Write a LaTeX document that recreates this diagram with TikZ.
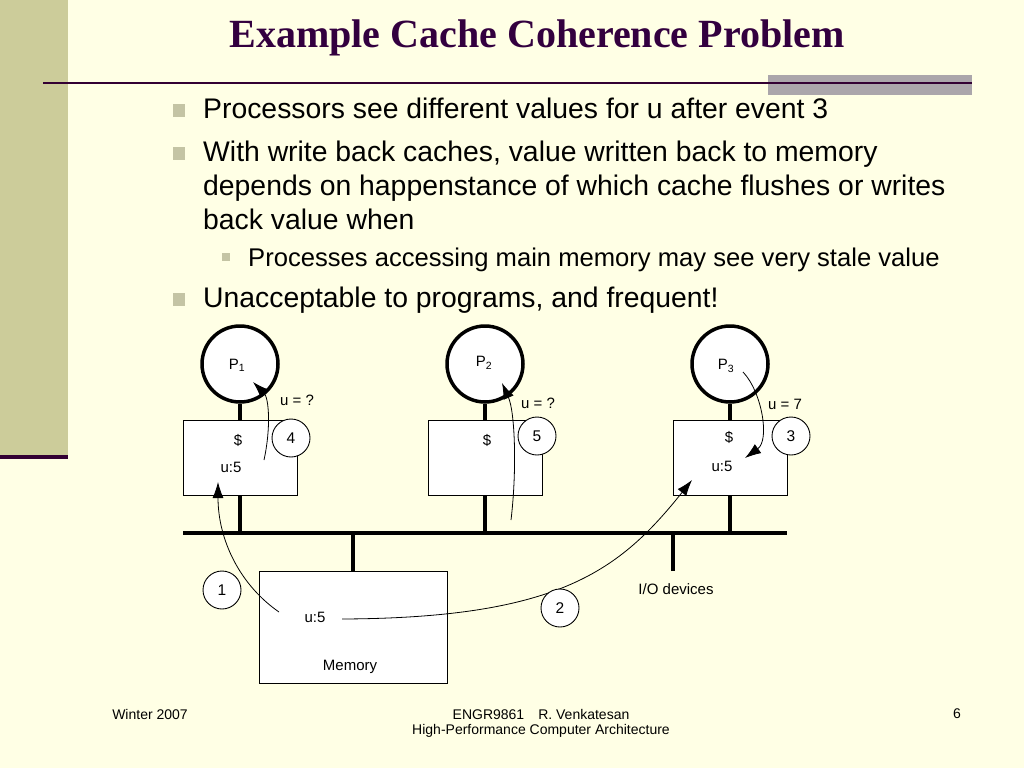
\documentclass[tikz,border=0pt]{standalone}
\usepackage{fontspec}
\setmainfont{Liberation Sans}
\newfontfamily\titlefont{Liberation Serif}
\usetikzlibrary{arrows.meta}
\definecolor{bg}{HTML}{FFFFE5}
\definecolor{strip}{HTML}{CCCC9A}
\definecolor{darkline}{HTML}{330033}
\definecolor{graybar}{HTML}{ABA6AB}
\definecolor{titlecol}{HTML}{33003F}
\definecolor{bulletcol}{HTML}{C4C4A4}
\tikzset{
  bodytext/.style={anchor=base west, inner sep=0pt, font=\fontsize{28.35}{32}\selectfont},
  subtext/.style={anchor=base west, inner sep=0pt, font=\fontsize{25.6}{30}\selectfont},
  foottext/.style={inner sep=0pt, font=\fontsize{14}{17}\selectfont},
  lbl/.style={inner sep=0pt, font=\fontsize{15}{18}\selectfont},
  proc/.style={circle, draw, line width=3.5pt, fill=white, minimum size=76pt, inner sep=0pt},
  cachebox/.style={rectangle, draw, line width=0.9pt, fill=white, minimum width=114pt, minimum height=75pt, inner sep=0pt},
  numcirc/.style={circle, draw, line width=0.9pt, fill=white, minimum size=38pt, inner sep=0pt, font=\fontsize{15.5}{18}\selectfont},
  heavy/.style={line width=3.5pt},
  flow/.style={line width=0.8pt, -{Latex[length=16pt,width=11pt]}},
  bulletsq/.style={fill=bulletcol},
}
\begin{document}
\begin{tikzpicture}[x=1pt,y=-1pt]
\useasboundingbox (0,0) rectangle (1024,768);
% background and decoration
\fill[bg] (0,0) rectangle (1024,768);
\fill[strip] (0,0) rectangle (68,456);
\fill[darkline] (0,455) rectangle (68,459);
\fill[graybar] (768,75) rectangle (972,95);
\draw[darkline, line width=2pt] (43,83) -- (972,83);
% title
\node[inner sep=0pt, text=titlecol, font=\titlefont\bfseries\fontsize{40}{44}\selectfont] (title) at (537,38) {Example Cache Coherence Problem};
% bullets
\fill[bulletsq] (173,104) rectangle (185,117);
\node[bodytext] (b1) at (203,118) {Processors see different values for u after event 3};
\fill[bulletsq] (173,147) rectangle (185,160);
\node[bodytext] (b2a) at (203,161) {With write back caches, value written back to memory};
\node[bodytext] (b2b) at (203,195) {depends on happenstance of which cache flushes or writes};
\node[bodytext] (b2c) at (203,229) {back value when};
\fill[bulletsq] (222,253) rectangle (230,261);
\node[subtext] (b3) at (248,266) {Processes accessing main memory may see very stale value};
\fill[bulletsq] (173,293) rectangle (185,306);
\node[bodytext] (b4) at (203,307) {Unacceptable to programs, and frequent!};
% bus
\coordinate (busL) at (183,533);
\coordinate (busR) at (787,533);
\draw[heavy] (busL) -- (busR);
% processors and caches
\node[proc] (p1) at (240,364) {};
\node[proc] (p2) at (485,364) {};
\node[proc] (p3) at (730,364) {};
\node[lbl] (p1l) at (237,365) {P\textsubscript{1}};
\node[lbl] (p2l) at (484,363) {P\textsubscript{2}};
\node[lbl] (p3l) at (726,366) {P\textsubscript{3}};
\node[cachebox] (c1) at (240,457.5) {};
\node[cachebox] (c2) at (485,457.5) {};
\node[cachebox] (c3) at (730,457.5) {};
\draw[heavy] (p1.south) -- (c1.north);
\draw[heavy] (p2.south) -- (c2.north);
\draw[heavy] (p3.south) -- (c3.north);
\draw[heavy] (c1.south) -- (c1.south |- busL);
\draw[heavy] (c2.south) -- (c2.south |- busL);
\draw[heavy] (c3.south) -- (c3.south |- busL);
\node[lbl] (d1) at (238,440) {\$};
\node[lbl] (d2) at (487,440) {\$};
\node[lbl] (d3) at (729,437) {\$};
\node[lbl] (u1) at (231,467) {u:5};
\node[lbl] (u3) at (722,466) {u:5};
\node[lbl] (q1) at (297,400) {u = ?};
\node[lbl] (q2) at (538,403) {u = ?};
\node[lbl] (q3) at (785,404) {u = 7};
% memory and I/O
\node[cachebox, minimum width=188pt, minimum height=112pt] (mem) at (353,627) {};
\draw[heavy] (mem.north) -- (mem.north |- busL);
\node[lbl] (mu) at (315,617) {u:5};
\node[lbl] (ml) at (350,667) {Memory};
\coordinate (iotop) at (673,571);
\draw[heavy] (iotop) -- (iotop |- busL);
\node[lbl] (io) at (676,589) {I/O devices};
% arrows
\coordinate (a1s) at (279,612);
\coordinate (a1e) at (218,482);
\draw[flow] (a1s) .. controls (240,585) and (218,540) .. (a1e);
\coordinate (a2s) at (342,619);
\coordinate (a2e) at (692,480);
\draw[flow] (a2s) .. controls (560,618) and (620,570) .. (a2e);
\coordinate (a3s) at (743,372);
\coordinate (a3e) at (745,458);
\draw[flow] (a3s) .. controls (762,392) and (770,440) .. (a3e);
\coordinate (a4s) at (264,460);
\coordinate (a4e) at (253,382);
\draw[flow] (a4s) .. controls (271,428) and (269,398) .. (a4e);
\coordinate (a5s) at (511,520);
\coordinate (a5e) at (502,383);
\draw[flow] (a5s) .. controls (517,470) and (515,412) .. (a5e);
% numbered circles
\node[numcirc] (n1) at (222,590) {1};
\node[numcirc] (n2) at (560,608) {2};
\node[numcirc] (n3) at (791,436) {3};
\node[numcirc] (n4) at (291,438) {4};
\node[numcirc] (n5) at (537,436) {5};
% footer
\node[foottext] (f1) at (150,714) {Winter 2007};
\node[foottext] (f2) at (541,714) {ENGR9861\hspace{1em}R. Venkatesan};
\node[foottext] (f3) at (541,731) {High-Performance Computer Architecture};
\node[foottext] (f4) at (957,714) {6};
\end{tikzpicture}
\end{document}
